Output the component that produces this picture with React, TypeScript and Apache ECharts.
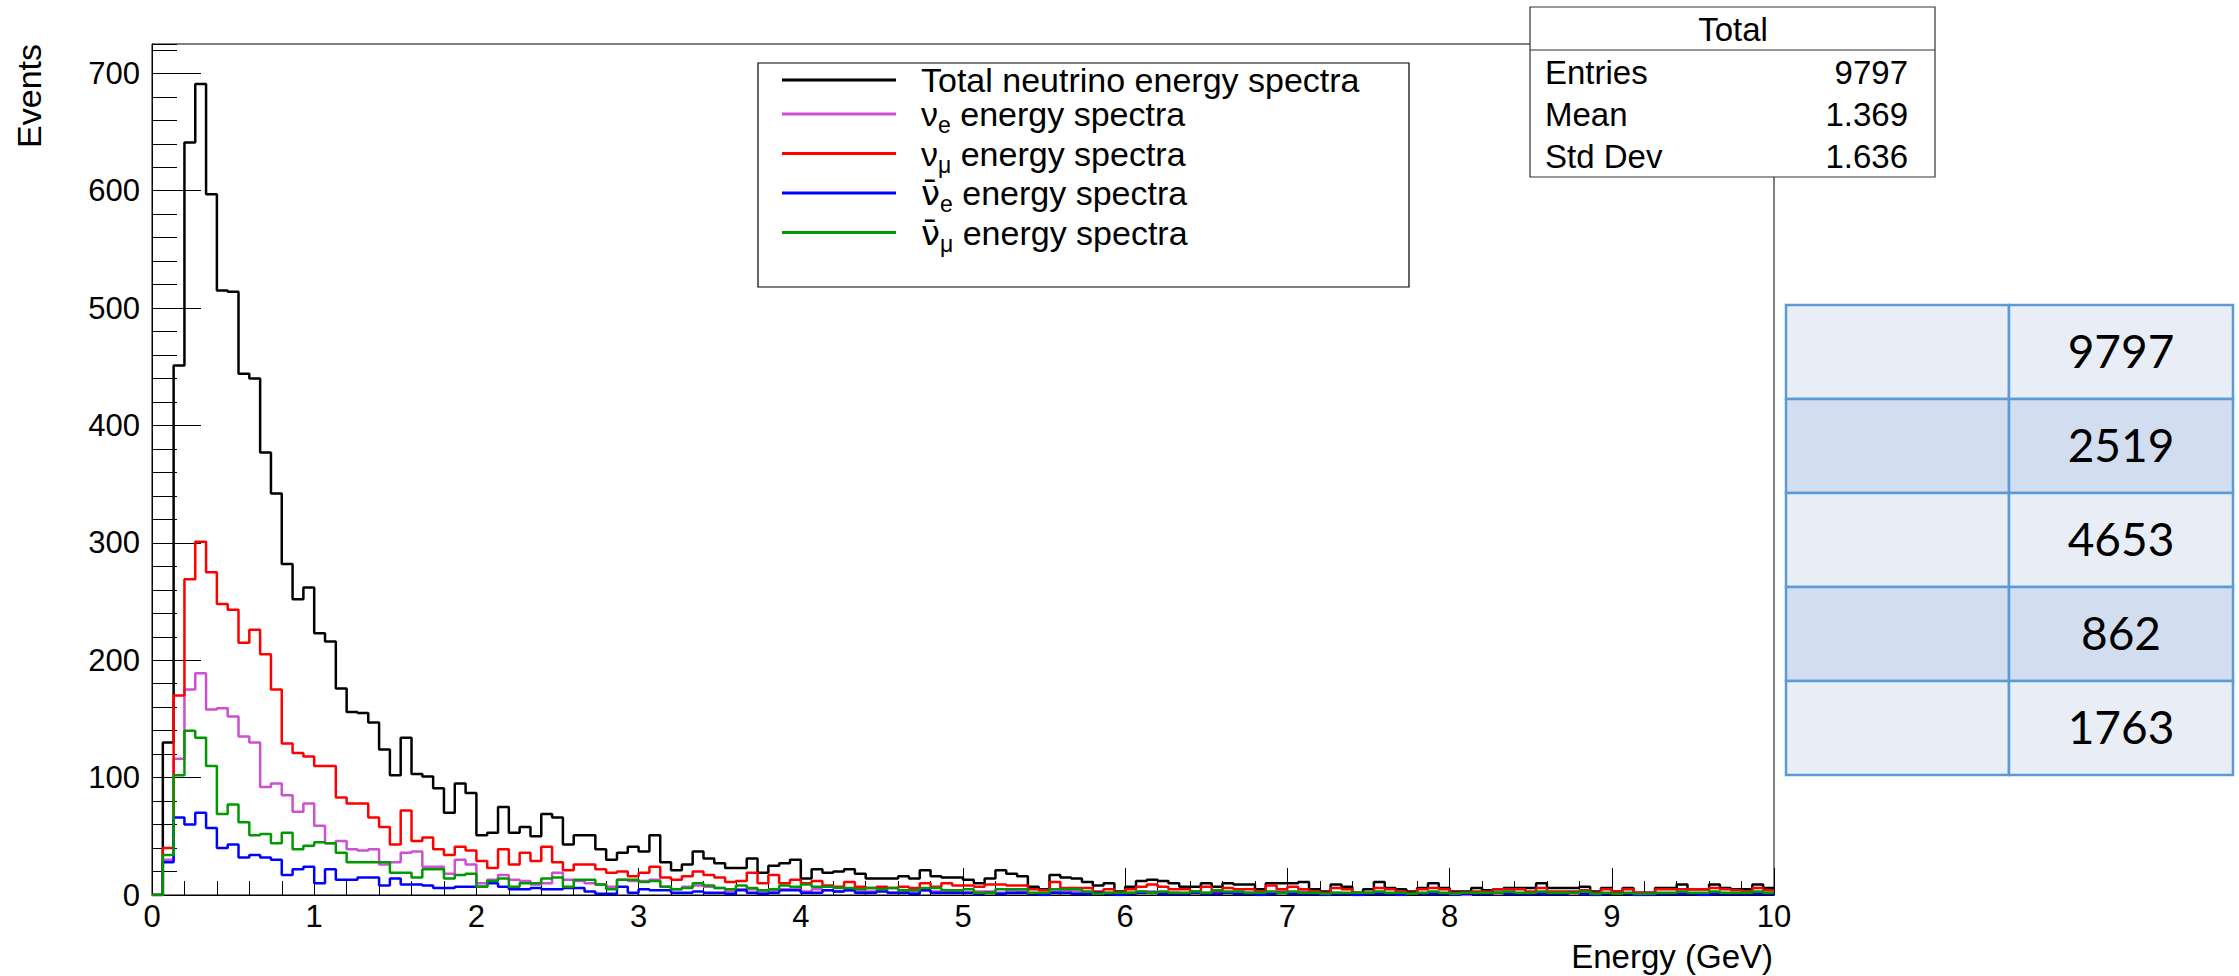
import React, { useEffect, useRef } from "react";
import * as echarts from "echarts";

// ---------- data ----------
const X_MIN = 0;
const X_MAX = 10;
const BIN_COUNT = 150;
const Y_MAX = 725;

const seriesNames = [
  "Total neutrino energy spectra",
  "νe energy spectra",
  "νμ energy spectra",
  "ν\u0304e energy spectra",
  "ν\u0304μ energy spectra",
];

const legendParts = [
  { nu: "", bar: false, sub: "", rest: "Total neutrino energy spectra" },
  { nu: "ν", bar: false, sub: "e", rest: " energy spectra" },
  { nu: "ν", bar: false, sub: "μ", rest: " energy spectra" },
  { nu: "ν\u0304", bar: true, sub: "e", rest: " energy spectra" },
  { nu: "ν\u0304", bar: true, sub: "μ", rest: " energy spectra" },
];

const totalCounts = [
  0, 130, 451, 641, 691, 597, 515, 514, 444, 440,
  377, 342, 282, 252, 262, 223, 216, 176, 156, 155,
  147, 124, 102, 134, 103, 101, 91, 70, 95, 87,
  51, 53, 75, 53, 58, 50, 69, 66, 43, 51,
  51, 39, 30, 36, 41, 37, 51, 28, 21, 26,
  37, 31, 27, 23, 23, 31, 19, 25, 27, 30,
  14, 22, 19, 20, 22, 18, 14, 14, 14, 16,
  14, 21, 16, 15, 15, 13, 10, 14, 21, 18,
  16, 7, 5, 17, 15, 14, 11, 8, 10, 3,
  7, 12, 13, 12, 10, 7, 7, 10, 7, 10,
  9, 9, 5, 10, 10, 10, 11, 5, 3, 9,
  7, 2, 5, 11, 6, 5, 3, 6, 10, 6,
  3, 3, 6, 4, 5, 6, 6, 6, 10, 6,
  6, 6, 7, 3, 6, 3, 6, 2, 2, 6,
  6, 9, 5, 5, 9, 6, 5, 5, 9, 6,
];

const nueCounts = [
  0, 30, 116, 175, 189, 158, 159, 152, 135, 130,
  92, 95, 85, 71, 78, 59, 44, 46, 39, 38,
  39, 26, 28, 36, 37, 24, 24, 18, 30, 26,
  10, 13, 17, 13, 12, 9, 10, 19, 13, 12,
  10, 9, 7, 13, 12, 12, 13, 7, 5, 7,
  8, 7, 6, 3, 5, 5, 3, 4, 5, 5,
  3, 5, 4, 3, 4, 3, 3, 4, 2, 3,
  3, 4, 3, 3, 3, 2, 3, 3, 2, 4,
  3, 1, 1, 3, 4, 3, 2, 2, 2, 1,
  2, 3, 3, 2, 2, 1, 2, 2, 1, 2,
  2, 2, 1, 2, 3, 2, 3, 1, 1, 2,
  1, 0, 1, 2, 1, 1, 1, 1, 2, 1,
  1, 0, 2, 1, 1, 1, 1, 1, 2, 1,
  2, 1, 2, 0, 1, 1, 1, 0, 0, 1,
  1, 2, 1, 1, 2, 1, 1, 1, 2, 1,
];

const numuCounts = [
  0, 40, 170, 269, 301, 275, 248, 243, 215, 226,
  205, 175, 129, 121, 118, 110, 110, 83, 78, 78,
  66, 58, 43, 72, 46, 49, 39, 34, 41, 38,
  29, 23, 39, 26, 36, 29, 41, 28, 21, 26,
  26, 22, 19, 20, 16, 19, 24, 15, 13, 16,
  20, 17, 15, 11, 12, 19, 10, 17, 10, 13,
  10, 12, 8, 7, 11, 7, 6, 7, 6, 7,
  6, 10, 7, 10, 8, 8, 7, 9, 9, 8,
  8, 5, 4, 11, 6, 6, 6, 3, 5, 2,
  5, 7, 9, 7, 5, 5, 3, 7, 3, 6,
  5, 5, 3, 8, 5, 7, 5, 3, 2, 6,
  5, 2, 2, 6, 5, 3, 2, 5, 6, 5,
  2, 2, 3, 3, 5, 5, 5, 3, 6, 3,
  3, 3, 4, 2, 5, 3, 5, 2, 2, 5,
  5, 5, 5, 5, 6, 5, 4, 3, 6, 4,
];

const anueCounts = [
  0, 28, 66, 60, 70, 57, 40, 43, 32, 34,
  32, 30, 17, 22, 24, 10, 22, 13, 13, 15,
  15, 8, 14, 9, 9, 8, 6, 6, 7, 7,
  7, 10, 7, 5, 5, 6, 5, 5, 6, 6,
  3, 1, 1, 7, 2, 5, 4, 4, 2, 2,
  3, 2, 2, 1, 4, 2, 1, 2, 4, 4,
  2, 2, 4, 3, 4, 2, 2, 3, 2, 2,
  1, 4, 2, 2, 2, 2, 1, 2, 1, 2,
  2, 1, 0, 2, 2, 1, 1, 2, 1, 0,
  1, 2, 2, 1, 1, 1, 2, 1, 1, 2,
  1, 1, 0, 1, 2, 1, 1, 1, 0, 1,
  1, 0, 1, 1, 1, 0, 1, 1, 1, 1,
  0, 1, 1, 1, 2, 1, 1, 1, 1, 1,
  1, 2, 1, 0, 1, 1, 1, 0, 0, 1,
  1, 1, 1, 0, 1, 1, 1, 1, 1, 1,
];

const anumuCounts = [
  0, 34, 102, 140, 134, 110, 69, 77, 62, 51,
  52, 44, 53, 39, 42, 45, 44, 36, 28, 28,
  28, 28, 19, 19, 15, 22, 22, 14, 17, 18,
  7, 12, 14, 7, 10, 10, 14, 15, 7, 13,
  13, 9, 5, 13, 13, 11, 12, 7, 5, 6,
  10, 8, 6, 5, 8, 6, 4, 5, 8, 7,
  9, 7, 7, 6, 6, 5, 6, 5, 6, 4,
  4, 6, 6, 4, 4, 5, 2, 2, 5, 5,
  5, 2, 2, 5, 5, 5, 3, 1, 2, 2,
  2, 3, 2, 3, 2, 2, 3, 2, 4, 3,
  3, 2, 2, 3, 2, 3, 2, 2, 1, 2,
  2, 2, 2, 3, 2, 2, 1, 2, 3, 2,
  1, 2, 2, 2, 2, 3, 2, 2, 3, 2,
  2, 2, 3, 1, 2, 1, 2, 1, 1, 2,
  2, 3, 2, 2, 3, 2, 2, 2, 3, 2,
];

const statsTitle = "Total";
const statsLabels = ["Entries", "Mean", "Std Dev"];
const statsValues = ["9797", "1.369", "1.636"];

const tableValues = ["9797", "2519", "4653", "862", "1763"];

// ---------- styles ----------
const FONT = '"Liberation Sans", Arial, Helvetica, sans-serif';
const seriesColors = ["#000000", "#CC4FD4", "#FF0000", "#0000FF", "#009A00"];

export default function App() {
  const ref = useRef<HTMLDivElement>(null);

  useEffect(() => {
    if (!ref.current) return;
    const chart = echarts.init(ref.current, null, { renderer: "svg" });

    const binWidth = (X_MAX - X_MIN) / BIN_COUNT;
    const allCounts = [totalCounts, nueCounts, numuCounts, anueCounts, anumuCounts];

    const series = allCounts.map((counts, s) => {
      const pts: number[][] = [];
      for (let i = 0; i <= BIN_COUNT; i++) {
        pts.push([X_MIN + i * binWidth, counts[Math.min(i, BIN_COUNT - 1)]]);
      }
      return {
        type: "line",
        name: seriesNames[s],
        step: "end",
        symbol: "none",
        showSymbol: false,
        silent: true,
        z: 2 + s,
        lineStyle: { color: seriesColors[s], width: 2.5 },
        itemStyle: { color: seriesColors[s] },
        data: pts,
      };
    });

    const rich = {
      t: { fontSize: 34, fontFamily: FONT, color: "#000", lineHeight: 45 },
      b: { fontSize: 34, fontFamily: '"DejaVu Sans", ' + FONT, color: "#000", lineHeight: 45 },
      s: { fontSize: 23, fontFamily: FONT, color: "#000", lineHeight: 24, verticalAlign: "bottom" },
    };

    const stats: any[] = [
      {
        type: "rect",
        z: 20,
        shape: { x: 1530, y: 7, width: 405, height: 170 },
        style: { fill: "#fff", stroke: "#333", lineWidth: 1.2 },
      },
      {
        type: "line",
        z: 21,
        shape: { x1: 1530, y1: 50, x2: 1935, y2: 50 },
        style: { stroke: "#333", lineWidth: 1.2 },
      },
      {
        type: "text",
        z: 21,
        x: 1733,
        y: 29,
        style: { text: statsTitle, font: `33px ${FONT}`, fill: "#000", align: "center", verticalAlign: "middle" },
      },
    ];
    const statRowsY = [72, 114, 156];
    statsLabels.forEach((lab, i) => {
      stats.push({
        type: "text",
        z: 21,
        x: 1545,
        y: statRowsY[i],
        style: { text: lab, font: `33px ${FONT}`, fill: "#000", align: "left", verticalAlign: "middle" },
      });
      stats.push({
        type: "text",
        z: 21,
        x: 1908,
        y: statRowsY[i],
        style: { text: statsValues[i], font: `33px ${FONT}`, fill: "#000", align: "right", verticalAlign: "middle" },
      });
    });

    const table: any[] = [];
    const tX = 1786, tY = 305, c1 = 223, c2 = 224, rH = 94;
    tableValues.forEach((val, i) => {
      const fill = i % 2 === 0 ? "#E9EEF6" : "#D2DEEF";
      table.push({
        type: "rect",
        z: 20,
        shape: { x: tX, y: tY + i * rH, width: c1, height: rH },
        style: { fill, stroke: "#5B9BD5", lineWidth: 2.5 },
      });
      table.push({
        type: "rect",
        z: 20,
        shape: { x: tX + c1, y: tY + i * rH, width: c2, height: rH },
        style: { fill, stroke: "#5B9BD5", lineWidth: 2.5 },
      });
      table.push({
        type: "text",
        z: 21,
        x: tX + c1 + c2 / 2,
        y: tY + i * rH + rH / 2 - 2,
        style: { text: val, font: `46px Lato, "Open Sans", sans-serif`, fill: "#000", align: "center", verticalAlign: "middle" },
      });
    });

    const option: any = {
      animation: false,
      backgroundColor: "#fff",
      grid: {
        left: 152,
        top: 44,
        width: 1622,
        height: 851,
        show: true,
        borderColor: "#000",
        borderWidth: 1,
        backgroundColor: "transparent",
        containLabel: false,
      },
      xAxis: {
        type: "value",
        min: X_MIN,
        max: X_MAX,
        interval: 1,
        axisLine: { show: true, onZero: false, lineStyle: { color: "#000", width: 1 } },
        axisTick: { show: true, inside: true, length: 27, lineStyle: { color: "#000", width: 1 } },
        minorTick: { show: true, splitNumber: 5, length: 14, lineStyle: { color: "#000", width: 1 } },
        axisLabel: { fontSize: 31, fontFamily: FONT, color: "#000", margin: 6 },
        splitLine: { show: false },
      },
      yAxis: [
        {
          type: "value",
          min: 0,
          max: Y_MAX,
          interval: 100,
          position: "left",
          axisLine: { show: true, onZero: false, lineStyle: { color: "#000", width: 1 } },
          axisTick: { show: true, inside: true, length: 49, lineStyle: { color: "#000", width: 1 } },
          axisLabel: {
            fontSize: 31,
            fontFamily: FONT,
            color: "#000",
            margin: 12,
            showMaxLabel: false,
            formatter: (v: number) => (v % 100 === 0 ? String(v) : ""),
          },
          splitLine: { show: false },
        },
        {
          type: "value",
          min: 0,
          max: Y_MAX,
          interval: 20,
          position: "left",
          axisLine: { show: false },
          axisTick: { show: true, inside: true, length: 25, lineStyle: { color: "#000", width: 1 } },
          axisLabel: { show: false },
          splitLine: { show: false },
        },
      ],
      legend: {
        show: true,
        orient: "vertical",
        left: 782,
        top: 63,
        padding: 0,
        itemGap: 0,
        itemWidth: 114,
        itemHeight: 3,
        icon: "rect",
        itemStyle: { borderWidth: 0 },
        selectedMode: false,
        z: 30,
        data: seriesNames,
        textStyle: { fontSize: 34, fontFamily: FONT, color: "#000", padding: [0, 0, 0, 20], rich },
        formatter: (name: string) => {
          const p = legendParts[seriesNames.indexOf(name)];
          if (!p.nu) return `{t|${p.rest}}`;
          return `{${p.bar ? "b" : "t"}|${p.nu}}{s|${p.sub}}{t|${p.rest}}`;
        },
      },
      graphic: [
        {
          type: "rect",
          z: 25,
          shape: { x: 758, y: 63, width: 651, height: 224 },
          style: { fill: "#fff", stroke: "#000", lineWidth: 1.2 },
        },
        {
          type: "text",
          z: 25,
          x: 29,
          y: 44,
          rotation: Math.PI / 2,
          style: { text: "Events", font: `34px ${FONT}`, fill: "#000", align: "right", verticalAlign: "middle" },
        },
        {
          type: "text",
          z: 25,
          x: 1773,
          y: 956,
          style: { text: "Energy (GeV)", font: `33px ${FONT}`, fill: "#000", align: "right", verticalAlign: "middle" },
        },
        ...stats,
        ...table,
      ],
      series,
    };

    chart.setOption(option);
    return () => chart.dispose();
  }, []);

  return (
    <div
      ref={ref}
      style={{ position: "fixed", left: 0, top: 0, width: 2239, height: 976, background: "#fff" }}
    />
  );
}
